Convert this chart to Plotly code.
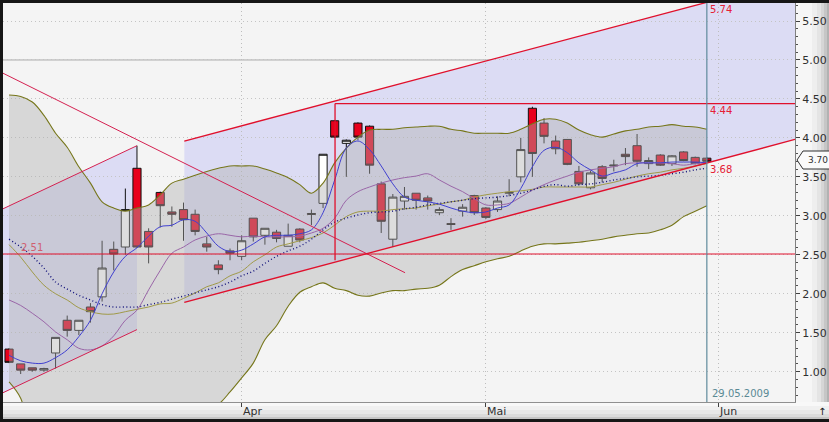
import plotly.graph_objects as go

# ---------------- data (trading-day index 0..60, last = 29.05.2009) ----------------
idx = list(range(61))
opens = [1.29,1.10,1.05,1.02,1.24,1.66,1.53,1.83,1.96,2.57,2.60,3.61,2.80,3.30,3.05,3.08,3.02,2.64,2.37,2.55,
         2.48,2.97,2.75,2.79,2.61,2.83,3.03,3.16,4.22,3.93,4.19,4.15,3.41,2.70,3.19,3.29,3.23,3.04,2.90,3.06,
         3.26,3.10,3.08,3.29,3.50,4.38,4.19,3.96,3.98,3.57,3.36,3.63,3.64,3.79,3.90,3.67,3.78,3.67,3.82,3.75,3.74]
highs = [1.30,1.10,1.05,1.05,1.44,1.72,1.66,1.88,2.68,2.67,3.35,3.90,2.84,3.31,3.12,3.17,3.08,2.73,2.43,2.58,
         2.75,2.97,2.84,2.82,2.90,2.84,3.08,3.79,4.23,3.98,4.20,4.16,3.44,3.28,3.37,3.29,3.26,3.11,2.97,3.15,
         3.27,3.11,3.25,3.47,4.00,4.40,4.25,4.03,3.98,3.64,3.58,3.65,3.72,3.87,4.05,3.75,3.79,3.78,3.83,3.76,3.75]
lows = [1.11,0.97,1.00,1.00,1.04,1.45,1.47,1.63,1.90,2.30,2.50,2.59,2.39,2.85,2.86,2.68,2.75,2.54,2.25,2.43,
        2.43,2.67,2.63,2.66,2.61,2.66,2.88,3.10,4.00,3.50,3.97,3.54,2.78,2.60,3.08,3.08,3.08,3.01,2.82,2.99,
        3.01,2.96,3.05,3.25,3.43,3.50,3.93,3.79,3.65,3.39,3.34,3.43,3.57,3.65,3.63,3.60,3.64,3.64,3.70,3.66,3.69]
closes = [1.12,1.02,1.02,1.04,1.44,1.53,1.66,1.77,2.33,2.51,3.08,2.60,2.60,3.13,3.02,2.95,2.80,2.60,2.31,2.52,
          2.68,2.73,2.84,2.71,2.75,2.69,3.02,3.79,4.01,3.97,4.01,3.65,2.93,3.24,3.25,3.20,3.19,3.08,2.89,3.11,
          3.04,2.98,3.19,3.30,3.85,3.80,4.02,3.86,3.66,3.41,3.55,3.48,3.65,3.76,3.70,3.71,3.65,3.77,3.71,3.67,3.70]

bb_upper = [4.55,4.53,4.46,4.29,4.06,3.88,3.63,3.42,3.18,3.10,3.06,3.10,3.14,3.27,3.42,3.47,3.52,3.57,3.61,3.64,
            3.64,3.64,3.60,3.55,3.49,3.40,3.29,3.42,3.68,3.87,4.01,4.10,4.11,4.11,4.13,4.14,4.15,4.15,4.11,4.09,
            4.06,4.06,4.06,4.06,4.11,4.18,4.24,4.24,4.19,4.10,4.04,4.01,4.05,4.09,4.11,4.14,4.15,4.17,4.15,4.14,4.11]
bb_mid = [2.63,2.47,2.28,2.11,2.00,1.92,1.82,1.77,1.74,1.74,1.77,1.80,1.83,1.87,1.88,1.94,2.01,2.09,2.14,2.23,
          2.29,2.41,2.50,2.60,2.64,2.68,2.72,2.78,2.88,2.99,3.05,3.06,3.06,3.08,3.09,3.10,3.13,3.15,3.18,3.20,
          3.24,3.27,3.29,3.31,3.32,3.34,3.37,3.37,3.37,3.37,3.37,3.40,3.43,3.47,3.51,3.54,3.56,3.59,3.61,3.64,3.67]
bb_lower = [0.87,0.66,0.10,-0.07,-0.06,-0.04,0.01,0.12,0.30,0.38,0.48,0.50,0.52,0.47,0.34,0.41,0.45,0.50,0.58,0.74,
            0.92,1.11,1.41,1.59,1.84,2.02,2.09,2.14,2.07,2.04,1.98,1.97,2.01,2.04,2.04,2.06,2.07,2.11,2.22,2.31,
            2.36,2.41,2.45,2.48,2.55,2.61,2.64,2.64,2.65,2.66,2.68,2.70,2.73,2.75,2.77,2.78,2.82,2.88,2.99,3.06,3.13]
ma_blue = [1.21,1.14,1.11,1.11,1.18,1.28,1.45,1.66,2.00,2.28,2.48,2.59,2.74,2.86,2.88,2.95,2.93,2.78,2.61,2.54,
           2.56,2.64,2.73,2.75,2.75,2.77,2.82,3.04,3.46,3.87,3.96,3.85,3.64,3.41,3.24,3.20,3.18,3.15,3.10,3.06,
           3.04,3.05,3.10,3.14,3.35,3.63,3.84,3.88,3.81,3.68,3.59,3.51,3.55,3.59,3.67,3.68,3.68,3.69,3.69,3.69,3.68]
ma_purple = [1.92,1.85,1.75,1.64,1.51,1.41,1.30,1.28,1.33,1.46,1.66,1.79,2.05,2.30,2.52,2.60,2.69,2.74,2.77,2.75,
             2.73,2.74,2.73,2.73,2.73,2.74,2.78,2.84,2.97,3.20,3.31,3.37,3.42,3.46,3.49,3.51,3.54,3.46,3.38,3.31,
             3.22,3.14,3.14,3.16,3.24,3.33,3.40,3.46,3.51,3.56,3.59,3.61,3.63,3.67,3.68,3.68,3.68,3.67,3.65,3.67,3.68]
ma_dotted = [2.70,2.60,2.48,2.33,2.15,2.06,1.98,1.92,1.86,1.83,1.83,1.83,1.86,1.89,1.93,1.97,2.01,2.05,2.09,2.15,
             2.23,2.29,2.39,2.48,2.55,2.61,2.70,2.82,2.92,2.97,3.01,3.04,3.05,3.06,3.09,3.11,3.14,3.16,3.18,3.20,
             3.22,3.23,3.24,3.26,3.29,3.33,3.38,3.40,3.38,3.40,3.41,3.43,3.46,3.48,3.50,3.51,3.52,3.54,3.56,3.59,3.61]

# drawn objects (trend lines / channels / levels)
ch1_x = [-0.52, 11.0]
ch1_top = [3.09, 3.90]
ch1_bot = [0.73, 1.54]
ch2_x = [15.07, 67.58]
ch2_top = [3.96, 6.04]
ch2_bot = [1.89, 3.98]
down_x = [-0.52, 34.05]
down_y = [4.83, 2.27]
res_level = 4.44
res_x0 = 28.03
res_low = 2.43
sup_level = 2.51
cursor_idx = 60
cursor_date = "29.05.2009"
label_top, label_res, label_low = "5.74", "4.44", "3.68"
last_price = "3.70"

tick_idx = [20, 41, 61]
tick_text = ["Apr", "Mai", "Jun"]
y_ticks = [1.0, 1.5, 2.0, 2.5, 3.0, 3.5, 4.0, 4.5, 5.0, 5.5]

X_RANGE = [-0.52, 67.58]
Y_RANGE = [0.611, 5.731]
W, H = 829, 422
ML, MR, MT, MB = 3, 34, 3, 20
PW, PH = W - ML - MR, H - MT - MB


def pxx(px):
    return (px - ML) / PW


def pxy(py):
    return (H - MB - py) / PH


FONT = "DejaVu Sans"
fig = go.Figure()

fig.add_trace(go.Candlestick(
    x=idx, open=opens, high=highs, low=lows, close=closes,
    increasing=dict(fillcolor="#ffffff", line=dict(color="#111111", width=1)),
    decreasing=dict(fillcolor="#e8001c", line=dict(color="#111111", width=1)),
    whiskerwidth=0, hoverinfo="skip", showlegend=False))

fig.add_trace(go.Scatter(x=idx, y=bb_upper, mode="lines", line=dict(color="#76761a", width=1.1, shape="spline"),
                         hoverinfo="skip", showlegend=False))
fig.add_trace(go.Scatter(x=idx, y=bb_lower, mode="lines", line=dict(color="#76761a", width=1.1, shape="spline"),
                         fill="tonexty", fillcolor="rgba(175,175,175,0.42)", hoverinfo="skip", showlegend=False))
fig.add_trace(go.Scatter(x=idx, y=bb_mid, mode="lines", line=dict(color="#a09a48", width=1, shape="spline"),
                         hoverinfo="skip", showlegend=False))
fig.add_trace(go.Scatter(x=idx, y=ma_purple, mode="lines", line=dict(color="#9a66a8", width=1, shape="spline"),
                         hoverinfo="skip", showlegend=False))
fig.add_trace(go.Scatter(x=idx, y=ma_dotted, mode="lines",
                         line=dict(color="#10107a", width=1.4, dash="1px,2.5px", shape="spline"),
                         hoverinfo="skip", showlegend=False))
fig.add_trace(go.Scatter(x=idx, y=ma_blue, mode="lines", line=dict(color="#4040d0", width=1, shape="spline"),
                         hoverinfo="skip", showlegend=False))

shapes = []
# frame strips (gradient imitation)
for x0, x1, c in [(795, 812, "#f6f6f6"), (812, 817, "#eeeeee"), (817, 821, "#e4e4e4"),
                  (821, 824, "#d6d6d6"), (824, 827, "#c6c6c6"), (827, 830, "#b2b2b2")]:
    shapes.append(dict(type="rect", xref="paper", yref="paper", x0=pxx(x0), x1=pxx(x1), y0=pxy(402), y1=pxy(3),
                       fillcolor=c, line=dict(width=0), layer="below"))
for y0, y1, c in [(402, 406, "#f8f8f8"), (406, 410, "#f0f0f0"), (410, 414, "#e6e6e6"),
                  (414, 417, "#dadada"), (417, 419, "#c4c4c4")]:
    shapes.append(dict(type="rect", xref="paper", yref="paper", x0=pxx(3), x1=pxx(830), y0=pxy(y1), y1=pxy(y0),
                       fillcolor=c, line=dict(width=0), layer="below"))

# channel fills
for cx, ct, cb in [(ch1_x, ch1_top, ch1_bot), (ch2_x, ch2_top, ch2_bot)]:
    path = f"M {cx[0]},{ct[0]} L {cx[1]},{ct[1]} L {cx[1]},{cb[1]} L {cx[0]},{cb[0]} Z"
    shapes.append(dict(type="path", xref="x", yref="y", path=path, fillcolor="#dcdcf4",
                       line=dict(width=0), layer="below"))
# solid 5.00 grid line
shapes.append(dict(type="line", xref="paper", yref="y", x0=0, x1=1, y0=5.0, y1=5.0,
                   line=dict(color="#ababab", width=1), layer="below"))

RED = "#e0102c"
CRIM = "#d42050"
shapes += [
    dict(type="line", xref="x", yref="y", x0=down_x[0], y0=down_y[0], x1=down_x[1], y1=down_y[1], line=dict(color=CRIM, width=1)),
    dict(type="line", xref="x", yref="y", x0=ch1_x[0], y0=ch1_top[0], x1=ch1_x[1], y1=ch1_top[1], line=dict(color=CRIM, width=1)),
    dict(type="line", xref="x", yref="y", x0=ch1_x[0], y0=ch1_bot[0], x1=ch1_x[1], y1=ch1_bot[1], line=dict(color=CRIM, width=1)),
    dict(type="line", xref="x", yref="y", x0=ch2_x[0], y0=ch2_top[0], x1=ch2_x[1], y1=ch2_top[1], line=dict(color=RED, width=1.3)),
    dict(type="line", xref="x", yref="y", x0=ch2_x[0], y0=ch2_bot[0], x1=ch2_x[1], y1=ch2_bot[1], line=dict(color=RED, width=1.3)),
    dict(type="line", xref="x", yref="y", x0=res_x0, y0=res_level, x1=X_RANGE[1], y1=res_level, line=dict(color=RED, width=1.3)),
    dict(type="line", xref="x", yref="y", x0=res_x0, y0=res_low, x1=res_x0, y1=res_level, line=dict(color=RED, width=1.3)),
    dict(type="line", xref="paper", yref="y", x0=0, y0=sup_level, x1=1, y1=sup_level, line=dict(color=RED, width=1.2)),
    dict(type="line", xref="x", yref="paper", x0=cursor_idx, y0=0, x1=cursor_idx, y1=1, line=dict(color="#5f8a9c", width=1.2)),
]
# last price tag
tag = (f"M {pxx(797)},{pxy(160)} L {pxx(803)},{pxy(151)} L {pxx(832)},{pxy(151)} "
       f"L {pxx(832)},{pxy(169)} L {pxx(803)},{pxy(169)} Z")
shapes.append(dict(type="path", xref="paper", yref="paper", path=tag, fillcolor="#fafafa",
                   line=dict(color="#303030", width=1)))

annotations = []
for t, lvl in [(label_top, ch2_top[0] + (cursor_idx - ch2_x[0]) * (ch2_top[1] - ch2_top[0]) / (ch2_x[1] - ch2_x[0])),
               (label_res, res_level),
               (label_low, ch2_bot[0] + (cursor_idx - ch2_x[0]) * (ch2_bot[1] - ch2_bot[0]) / (ch2_x[1] - ch2_x[0]))]:
    annotations.append(dict(x=cursor_idx, y=min(lvl, Y_RANGE[1]), xref="x", yref="y", text=t, showarrow=False,
                            xanchor="left", yanchor="top", xshift=1, yshift=1,
                            font=dict(family=FONT, size=10, color="#e52035")))
annotations.append(dict(x=0.86, y=sup_level, xref="x", yref="y", text=f"{sup_level:.2f}", showarrow=False,
                        xanchor="left", yanchor="bottom", yshift=-1,
                        font=dict(family=FONT, size=10, color="#d06070")))
annotations.append(dict(x=cursor_idx, y=pxy(393), xref="x", yref="paper", text=cursor_date, showarrow=False,
                        xanchor="left", yanchor="middle", xshift=3,
                        font=dict(family=FONT, size=10, color="#5a8a94")))
for ti, tt in zip(tick_idx, tick_text):
    annotations.append(dict(x=ti, y=pxy(411), xref="x", yref="paper", text=tt, showarrow=False,
                            xanchor="left", yanchor="middle", xshift=-1,
                            font=dict(family=FONT, size=11, color="#303030")))
annotations.append(dict(x=pxx(806), y=pxy(160), xref="paper", yref="paper", text=last_price, showarrow=False,
                        xanchor="left", yanchor="middle", font=dict(family=FONT, size=9, color="#303030")))
annotations.append(dict(x=pxx(822), y=pxy(411), xref="paper", yref="paper", text="↑", showarrow=False,
                        xanchor="center", yanchor="middle", font=dict(family=FONT, size=10, color="#202020")))

fig.update_layout(
    width=W, height=H,
    margin=dict(l=ML, r=MR, t=MT, b=MB, pad=0),
    paper_bgcolor="#161616",
    plot_bgcolor="#f4f4f4",
    showlegend=False,
    boxgap=0.3,
    boxgroupgap=0.0,
    shapes=shapes,
    annotations=annotations,
    xaxis=dict(range=X_RANGE, tickvals=tick_idx, ticktext=tick_text, showticklabels=False,
               ticks="outside", ticklen=4, tickcolor="#404040",
               showgrid=True, gridcolor="#bdbdbd", griddash="1px,3px", gridwidth=1,
               showline=True, linecolor="#909090", zeroline=False, rangeslider=dict(visible=False),
               fixedrange=True),
    yaxis=dict(range=Y_RANGE, side="right", tickvals=y_ticks, ticktext=[f"{v:.2f}" for v in y_ticks],
               ticks="outside", ticklen=4, tickcolor="#404040",
               tickfont=dict(family=FONT, size=11, color="#303030"),
               minor=dict(ticks="outside", ticklen=2, dtick=0.1, tick0=0, tickcolor="#505050", showgrid=False),
               showgrid=True, gridcolor="#c4c4c4", griddash="1px,3px", gridwidth=1,
               showline=True, linecolor="#808080", zeroline=False, fixedrange=True),
)

fig.write_html("out.html", config={"displayModeBar": False, "staticPlot": True},
               post_script="document.body.style.margin='0';document.body.style.overflow='hidden';")
